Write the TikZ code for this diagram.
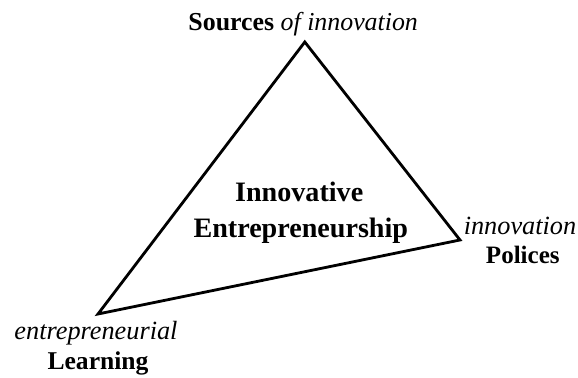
\documentclass[tikz,border=0pt]{standalone}
\usepackage{fontspec}
\setmainfont{Liberation Serif}
\usepackage{tikz}

\begin{document}
\begin{tikzpicture}
        \useasboundingbox (0,0) rectangle (14.45,-9.45);
        \coordinate (src) at (7.62,-1.05);
        \coordinate (pol) at (11.5,-6.0);
        \coordinate (lrn) at (2.45,-7.85);
        \draw [line width=2pt, line join=miter] (src) -- (pol) -- (lrn) -- cycle;
        \node [anchor=base, font=\fontsize{18.4}{21}\selectfont] (sources) at (7.58,-0.77) {\textbf{Sources} \textit{of innovation}};
        \node [anchor=base, font=\fontsize{20}{23}\selectfont\bfseries] (innov) at (7.48,-5.05) {Innovative};
        \node [anchor=base, font=\fontsize{20}{23}\selectfont\bfseries] (entre) at (7.52,-5.93) {Entrepreneurship};
        \node [anchor=base, font=\fontsize{18.7}{21}\selectfont\itshape] (innovation) at (13.0,-5.86) {innovation};
        \node [anchor=base, font=\fontsize{17.8}{21}\selectfont\bfseries] (polices) at (13.07,-6.6) {Polices};
        \node [anchor=base, font=\fontsize{18.7}{21}\selectfont\itshape] (entrep) at (2.4,-8.5) {entrepreneurial};
        \node [anchor=base, font=\fontsize{18.2}{21}\selectfont\bfseries] (learning) at (2.45,-9.25) {Learning};
    \end{tikzpicture}
\end{document}
